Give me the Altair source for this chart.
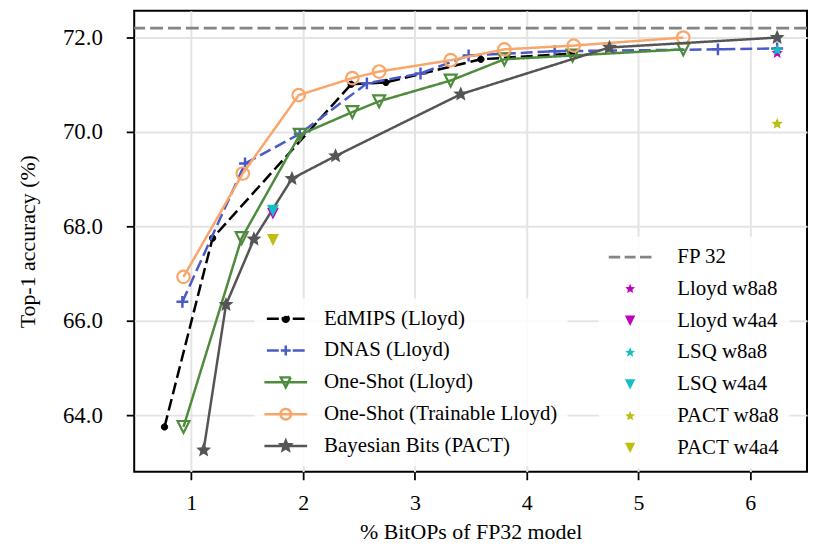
import math
import altair as alt
import pandas as pd

# ---------------- data ----------------
series_names = ["EdMIPS (Lloyd)", "DNAS (Lloyd)", "One-Shot (Lloyd)",
                "One-Shot (Trainable Lloyd)", "Bayesian Bits (PACT)"]

edmips_x = [0.76, 1.19, 2.43, 2.74, 3.59, 4.40]
edmips_y = [63.75, 67.75, 71.01, 71.05, 71.54, 71.66]

dnas_x = [0.92, 1.48, 1.97, 2.57, 3.05, 3.48, 4.25, 5.71, 6.24]
dnas_y = [66.40, 69.33, 69.96, 71.03, 71.24, 71.62, 71.71, 71.75, 71.77]

oneshot_x = [0.93, 1.45, 1.97, 2.44, 2.68, 3.32, 3.80, 4.41, 5.40]
oneshot_y = [63.75, 67.75, 69.94, 70.42, 70.65, 71.09, 71.54, 71.62, 71.75]

trainable_x = [0.93, 1.46, 1.96, 2.44, 2.68, 3.32, 3.80, 4.42, 5.40]
trainable_y = [66.93, 69.12, 70.78, 71.14, 71.28, 71.52, 71.75, 71.83, 72.00]

bayes_x = [1.11, 1.31, 1.56, 1.90, 2.29, 3.41, 4.74, 6.24]
bayes_y = [63.26, 66.34, 67.73, 69.01, 69.49, 70.80, 71.79, 72.00]

single_names = ["Lloyd w8a8", "Lloyd w4a4", "LSQ w8a8", "LSQ w4a4", "PACT w8a8", "PACT w4a4"]
single_x = [6.24, 1.73, 6.24, 1.73, 6.24, 1.73]
single_y = [71.67, 68.27, 71.73, 68.33, 70.17, 67.71]

fp32_label = "FP 32"
fp32_acc = [72.2]

x_ticks = [1, 2, 3, 4, 5, 6]
y_ticks = [64, 66, 68, 70, 72]

# ---------------- styles ----------------
series_colors = ["#000000", "#4a5ac6", "#4f8b3c", "#f9a66b", "#555555"]
series_fill = ["#000000", "transparent", "transparent", "transparent", "#555555"]
series_dash = [[12, 5], [12, 5], [1, 0], [1, 0], [1, 0]]
single_colors = ["#bf00bf", "#bf00bf", "#14bfc2", "#14bfc2", "#bdbd12", "#bdbd12"]
fp32_color = "#848484"
FONT = "Liberation Serif"


def circle(r):
    return f"M{-r},0A{r},{r} 0 1,0 {r},0A{r},{r} 0 1,0 {-r},0Z"


def plus(a):
    return f"M{-a},0L{a},0M0,{-a}L0,{a}"


def tri_down(h):
    return f"M{-h},{-h}L{h},{-h}L0,{h}Z"


def star(R, ratio=0.45):
    pts = []
    for k in range(10):
        rr = R if k % 2 == 0 else R * ratio
        a = math.radians(90 + 36 * k)
        pts.append((rr * math.cos(a), -rr * math.sin(a)))
    return "M" + "L".join(f"{px:.2f},{py:.2f}" for px, py in pts) + "Z"


def rect(x0, x1, h):
    return f"M{x0},{-h}L{x1},{-h}L{x1},{h}L{x0},{h}Z"


full_line = "M-21.5,0L21.5,0"
split_line = "M-7,0L-21.5,0M7,0L21.5,0"

plot_markers = [circle(3.2), plus(6), tri_down(6), circle(6.3), star(6.3)]
marker_fills = ["#000000", "transparent", "transparent", "transparent", "#555555"]
marker_widths = [1, 2.5, 2.2, 2.2, 1.2]

legend_paths = [split_line + circle(3.0), split_line + plus(5.0),
                full_line + tri_down(5.0), full_line + circle(5.3), full_line + star(5.2)]

fp_dash_path = rect(-21.5, -10, 1.4) + rect(-5.5, 5.5, 1.4) + rect(10, 21.5, 1.4)
single_paths = [star(5.2), tri_down(5.2), star(5.2), tri_down(5.2), star(5.2), tri_down(5.2)]

# ---------------- tables ----------------
rows = []
for name, xs, ys in zip(series_names,
                        [edmips_x, dnas_x, oneshot_x, trainable_x, bayes_x],
                        [edmips_y, dnas_y, oneshot_y, trainable_y, bayes_y]):
    for xv, yv in zip(xs, ys):
        rows.append({"series": name, "bitops": xv, "acc": yv})
df = pd.DataFrame(rows)

singles_df = pd.DataFrame({"series": single_names, "bitops": single_x, "acc": single_y})
fp_df = pd.DataFrame({"acc": fp32_acc})

# ---------------- encodings ----------------
x_enc = alt.X("bitops:Q",
              scale=alt.Scale(domain=[0.489, 6.507], nice=False, zero=False),
              axis=alt.Axis(values=x_ticks, format="d", title="% BitOPs of FP32 model",
                            labelPadding=13, labelFontSize=22,
                            titleBaseline="alphabetic", titleY=67))
y_enc = alt.Y("acc:Q",
              scale=alt.Scale(domain=[62.8, 72.57], nice=False, zero=False),
              axis=alt.Axis(values=y_ticks, format=".1f", title="Top-1 accuracy (%)",
                            labelPadding=24, labelFontSize=23, titlePadding=23))

color_scale = alt.Scale(domain=series_names, range=series_colors)
dash_scale = alt.Scale(domain=series_names, range=series_dash)
fill_scale = alt.Scale(domain=series_names, range=series_fill)
legend_shape_scale = alt.Scale(domain=series_names, range=legend_paths)


def make_legend(lx, ly, stroke_w, label_off):
    return alt.Legend(title=None, orient="none", legendX=lx, legendY=ly,
                      direction="vertical", symbolSize=4, symbolStrokeWidth=stroke_w,
                      symbolOffset=11, labelOffset=label_off, labelFontSize=21,
                      labelFont=FONT, labelColor="black", labelLimit=500,
                      rowPadding=10, padding=10,
                      fillColor="rgba(255,255,255,0.85)",
                      symbolFillColor="transparent")


left_legend = make_legend(121, 289.5, 2.5, 28)
right_legend = make_legend(467.5, 227.5, 0, 37)

base = alt.Chart(df)
layers = []
for i, name in enumerate(series_names):
    sub = base.transform_filter(alt.datum.series == name)
    line = sub.mark_line(strokeWidth=2.5).encode(
        x=x_enc, y=y_enc,
        color=alt.Color("series:N", scale=color_scale, legend=left_legend),
        strokeDash=alt.StrokeDash("series:N", scale=dash_scale, legend=left_legend),
    )
    pts = sub.mark_point(shape=plot_markers[i], size=4, filled=False,
                         fill=marker_fills[i], stroke=series_colors[i],
                         strokeWidth=marker_widths[i], opacity=1).encode(x=x_enc, y=y_enc)
    layers += [line, pts]

legend_layer = base.transform_filter("false").mark_point(filled=False, opacity=1).encode(
    color=alt.Color("series:N", scale=color_scale, legend=left_legend),
    fill=alt.Fill("series:N", scale=fill_scale, legend=left_legend),
    shape=alt.Shape("series:N", scale=legend_shape_scale, legend=left_legend),
    strokeDash=alt.StrokeDash("series:N", scale=dash_scale, legend=left_legend),
)
main_group = alt.layer(*layers, legend_layer)

single_domain = [fp32_label] + single_names
singles = alt.Chart(singles_df).mark_point(filled=True, size=5.3, opacity=1).encode(
    x=x_enc, y=y_enc,
    color=alt.Color("series:N", scale=alt.Scale(domain=single_domain,
                                                 range=[fp32_color] + single_colors),
                    legend=right_legend),
    shape=alt.Shape("series:N", scale=alt.Scale(domain=single_domain,
                                                 range=[fp_dash_path] + single_paths),
                    legend=right_legend),
)

fp_rule = alt.Chart(fp_df).mark_rule(color=fp32_color, strokeWidth=2.8,
                                     strokeDash=[13, 5]).encode(y=y_enc)

chart = alt.layer(fp_rule, main_group, singles).resolve_scale(
    color="independent", shape="independent", fill="independent",
    strokeDash="independent"
).properties(
    width=677, height=464,
    autosize=alt.AutoSizeParams(type="none"),
    padding={"left": 127, "top": 1, "right": 2, "bottom": 71},
).configure(font=FONT).configure_axis(
    labelFont=FONT, titleFont=FONT, titleFontSize=22,
    labelColor="black", titleColor="black", titleFontWeight="normal",
    tickColor="black", tickWidth=1.8, tickSize=8,
    gridColor="#e4e4e4", gridWidth=2, domain=False,
).configure_view(stroke="black", strokeWidth=2)

chart.save("out.html", embed_options={"renderer": "svg", "actions": False})
